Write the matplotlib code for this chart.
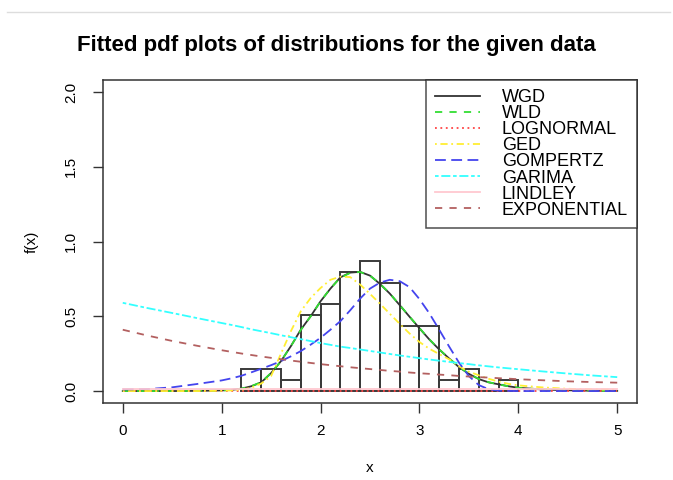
import matplotlib.pyplot as plt
from matplotlib.lines import Line2D

plt.rcParams['font.family'] = ['Liberation Sans', 'DejaVu Sans']

# histogram (density scale), bin width 0.2
bin_left = [1.2, 1.4, 1.6, 1.8, 2.0, 2.2, 2.4, 2.6, 2.8, 3.0, 3.2, 3.4, 3.6, 3.8]
bin_height = [0.145, 0.145, 0.072, 0.507, 0.580, 0.797, 0.870, 0.725,
              0.435, 0.435, 0.072, 0.145, 0.0, 0.072]

# x grid the fitted curves were read at
xs = [0, 0.25, 0.5, 0.75, 1.0, 1.1, 1.2, 1.3, 1.4, 1.5, 1.6, 1.7, 1.8, 1.9,
      2.0, 2.1, 2.2, 2.3, 2.4, 2.5, 2.6, 2.7, 2.8, 2.9, 3.0, 3.1, 3.2, 3.3,
      3.4, 3.5, 3.6, 3.7, 3.8, 3.9, 4.0, 4.25, 4.5, 4.75, 5.0]

wgd = [0.0, 0.0, 0.0, 0.001, 0.004, 0.008, 0.016, 0.032, 0.058, 0.12, 0.20,
       0.30, 0.41, 0.50, 0.60, 0.685, 0.76, 0.792, 0.797, 0.772, 0.717, 0.652,
       0.575, 0.497, 0.42, 0.345, 0.278, 0.218, 0.16, 0.115, 0.08, 0.058,
       0.045, 0.032, 0.022, 0.01, 0.005, 0.002, 0.001]
wld = [0.0, 0.0, 0.0, 0.001, 0.004, 0.008, 0.016, 0.033, 0.059, 0.121, 0.20,
       0.30, 0.408, 0.50, 0.60, 0.686, 0.758, 0.79, 0.796, 0.772, 0.718, 0.653,
       0.576, 0.498, 0.421, 0.346, 0.279, 0.219, 0.161, 0.116, 0.081, 0.059,
       0.045, 0.032, 0.022, 0.01, 0.005, 0.002, 0.001]
lognormal = [0.002] * 39
ged = [0.0, 0.0, 0.0, 0.0, 0.002, 0.004, 0.009, 0.022, 0.05, 0.10, 0.25,
       0.40, 0.533, 0.622, 0.689, 0.744, 0.765, 0.762, 0.712, 0.65, 0.585,
       0.517, 0.45, 0.385, 0.328, 0.283, 0.247, 0.213, 0.165, 0.13, 0.105,
       0.082, 0.063, 0.048, 0.038, 0.024, 0.015, 0.011, 0.009]
gompertz = [0.011, 0.013, 0.025, 0.047, 0.071, 0.085, 0.102, 0.125, 0.149,
            0.173, 0.20, 0.232, 0.267, 0.31, 0.356, 0.41, 0.467, 0.54, 0.618,
            0.685, 0.725, 0.744, 0.735, 0.695, 0.615, 0.52, 0.41, 0.298, 0.19,
            0.10, 0.04, 0.012, 0.003, 0.001, 0.0, 0.0, 0.0, 0.0, 0.0]
garima = [0.59, 0.555, 0.522, 0.488, 0.455, 0.442, 0.428, 0.413, 0.40, 0.387,
          0.373, 0.36, 0.347, 0.334, 0.321, 0.309, 0.297, 0.288, 0.278, 0.268,
          0.258, 0.248, 0.238, 0.229, 0.22, 0.211, 0.203, 0.195, 0.187, 0.18,
          0.172, 0.165, 0.158, 0.152, 0.146, 0.131, 0.117, 0.104, 0.093]
lindley = [0.012] * 39
exponential = [0.41, 0.371, 0.335, 0.303, 0.273, 0.262, 0.251, 0.241, 0.231,
               0.222, 0.213, 0.204, 0.196, 0.188, 0.18, 0.173, 0.166, 0.159,
               0.153, 0.147, 0.141, 0.135, 0.13, 0.124, 0.119, 0.115, 0.11,
               0.106, 0.101, 0.097, 0.093, 0.09, 0.086, 0.083, 0.079, 0.072,
               0.065, 0.06, 0.056]

fig = plt.figure(figsize=(6.73, 4.8), dpi=100)
ax = fig.add_axes([0.153, 0.1604, 0.7935, 0.6729])

ax.bar(bin_left, bin_height, width=0.2, align='edge', fill=False,
       edgecolor='#3a3a3a', linewidth=1.4, zorder=3)

curves = [
    (wgd, 'WGD', '#333333', '-'),
    (wld, 'WLD', '#33dd33', (0, (4, 4))),
    (lognormal, 'LOGNORMAL', '#ff4444', (0, (1, 2))),
    (ged, 'GED', '#ffee33', (0, (1, 2, 4, 2))),
    (gompertz, 'GOMPERTZ', '#4444ee', (0, (6, 3))),
    (garima, 'GARIMA', '#33ffff', (0, (2, 1.5, 5, 1.5))),
    (lindley, 'LINDLEY', '#ffc8d0', '-'),
    (exponential, 'EXPONENTIAL', '#b36060', (0, (4, 4))),
]
handles = []
for ys, name, col, ls in curves:
    ax.plot(xs, ys, color=col, linestyle=ls, linewidth=1.3, zorder=4)
    handles.append(Line2D([], [], color=col, linestyle=ls, linewidth=1.3,
                          label=name))

ax.set_xlim(-0.2, 5.2)
ax.set_ylim(-0.08, 2.08)
ax.set_xticks([0, 1, 2, 3, 4, 5])
ax.set_yticks([0.0, 0.5, 1.0, 1.5, 2.0])
ax.set_yticklabels(['0.0', '0.5', '1.0', '1.5', '2.0'], rotation=90,
                   va='center')
ax.tick_params(direction='out', length=7, width=1, color='#333333',
               labelsize=11)
ax.tick_params(axis='x', pad=8)
ax.tick_params(axis='y', pad=11)
for s in ax.spines.values():
    s.set_color('#333333')
    s.set_linewidth(1.1)

ax.set_xlabel('x', fontsize=11, labelpad=17)
ax.set_ylabel('f(x)', fontsize=11, labelpad=18)

leg = ax.legend(handles=handles, loc='upper right', borderaxespad=0,
                fancybox=False, fontsize=13, handlelength=2.5,
                labelspacing=-0.05, handletextpad=1.2, borderpad=0.5)
leg.get_frame().set_edgecolor('#222222')
leg.get_frame().set_linewidth(1.1)

fig.text(0.5, 1 - 46 / 480, 'Fitted pdf plots of distributions for the given data',
         ha='center', va='center', fontsize=16, fontweight='bold')
fig.add_artist(Line2D([0.01, 0.995], [1 - 12 / 480, 1 - 12 / 480],
                      color='#dddddd', linewidth=1))

fig.savefig('out.png', dpi=100)
